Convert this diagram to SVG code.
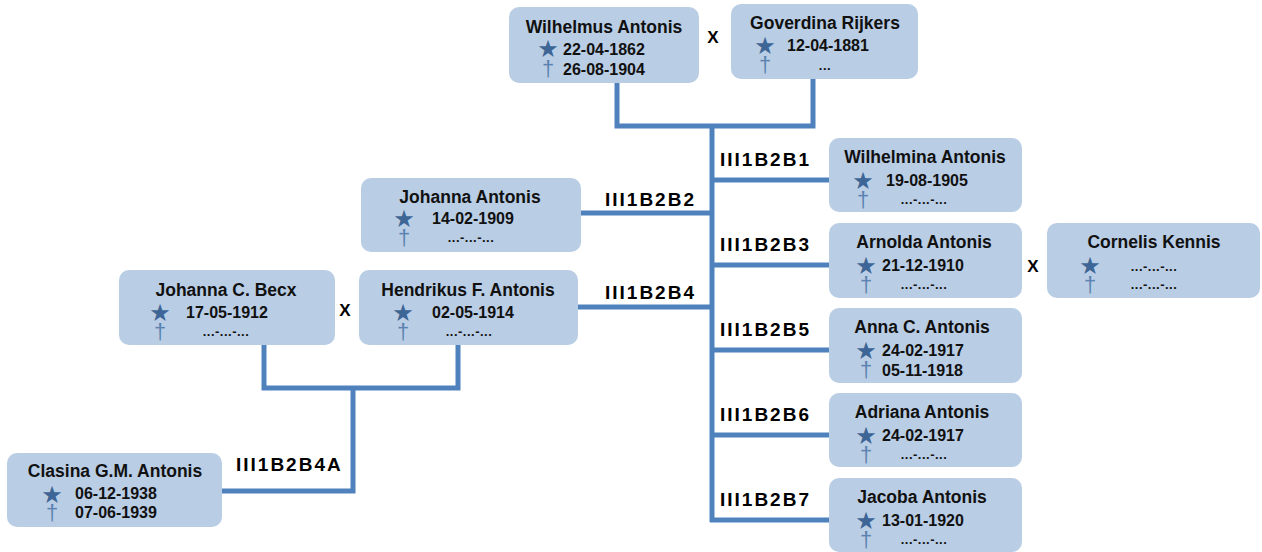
<svg xmlns="http://www.w3.org/2000/svg" width="1262" height="552" viewBox="0 0 1262 552">
<style>
.box{fill:#b9cde5}
.name{font-family:"Liberation Sans",Arial,sans-serif;font-weight:bold;font-size:17.5px;fill:#111;text-anchor:middle}
.date{font-family:"Liberation Sans",Arial,sans-serif;font-weight:bold;font-size:16px;fill:#111}
.dots{font-family:"Liberation Sans",Arial,sans-serif;font-weight:bold;font-size:13px;letter-spacing:0.5px;fill:#111;text-anchor:middle}
.star{font-family:"DejaVu Sans",sans-serif;font-size:24px;fill:#3d6595;text-anchor:middle}
.dag{font-family:"Liberation Sans",Arial,sans-serif;font-size:22px;fill:#5b82b0;text-anchor:middle}
.lbl{font-family:"Liberation Sans",Arial,sans-serif;font-weight:bold;font-size:19px;letter-spacing:2px;fill:#000}
.x{font-family:"Liberation Sans",Arial,sans-serif;font-weight:bold;font-size:17px;fill:#000;text-anchor:middle}
.conn{stroke:#4f81bd;stroke-width:5;fill:none}
</style>
<g id="connectors">
<path class="conn" d="M617,83 V126 H813 V79"/>
<path class="conn" d="M712,126 V522"/>
<path class="conn" d="M712,180 H829 M712,265 H829 M712,350 H829 M712,435 H829 M710,520 H829"/>
<path class="conn" d="M712,213 H581 M712,307 H578"/>
<path class="conn" d="M264,345 V388 H458 V345"/>
<path class="conn" d="M353,388 V491 H222"/>
</g>
<g id="labels">
<text class="lbl" x="720" y="166">III1B2B1</text>
<text class="lbl" x="720" y="251">III1B2B3</text>
<text class="lbl" x="720" y="336">III1B2B5</text>
<text class="lbl" x="720" y="421">III1B2B6</text>
<text class="lbl" x="720" y="506">III1B2B7</text>
<text class="lbl" x="605" y="206">III1B2B2</text>
<text class="lbl" x="605" y="299">III1B2B4</text>
<text class="lbl" x="236" y="471">III1B2B4A</text>
<text class="x" x="713" y="43">X</text>
<text class="x" x="1033" y="272">X</text>
<text class="x" x="345" y="316">X</text>
</g>
<g id="wilhelmus">
<rect class="box" x="509" y="7" width="190" height="76" rx="10"/>
<text class="name" x="604" y="33">Wilhelmus Antonis</text>
<text class="star" x="548" y="57">★</text>
<text class="date" x="563" y="55">22-04-1862</text>
<text class="dag" x="548" y="76">†</text>
<text class="date" x="563" y="75">26-08-1904</text>
</g>
<g id="goverdina">
<rect class="box" x="731" y="4" width="187" height="75" rx="10"/>
<text class="name" x="825" y="29">Goverdina Rijkers</text>
<text class="star" x="765" y="54">★</text>
<text class="date" x="787" y="51">12-04-1881</text>
<text class="dag" x="765" y="72">†</text>
<text class="dots" x="825" y="70">...</text>
</g>
<g id="wilhelmina">
<rect class="box" x="829" y="138" width="193" height="74" rx="10"/>
<text class="name" x="925" y="163">Wilhelmina Antonis</text>
<text class="star" x="863" y="189">★</text>
<text class="date" x="886" y="186">19-08-1905</text>
<text class="dag" x="863" y="207">†</text>
<text class="dots" x="924" y="204">...-...-...</text>
</g>
<g id="johanna">
<rect class="box" x="361" y="178" width="220" height="74" rx="10"/>
<text class="name" x="470" y="203">Johanna Antonis</text>
<text class="star" x="404" y="227">★</text>
<text class="date" x="432" y="224">14-02-1909</text>
<text class="dag" x="404" y="245">†</text>
<text class="dots" x="471" y="242">...-...-...</text>
</g>
<g id="arnolda">
<rect class="box" x="829" y="223" width="193" height="75" rx="10"/>
<text class="name" x="924" y="248">Arnolda Antonis</text>
<text class="star" x="866" y="274">★</text>
<text class="date" x="882" y="271">21-12-1910</text>
<text class="dag" x="866" y="292">†</text>
<text class="dots" x="924" y="289">...-...-...</text>
</g>
<g id="cornelis">
<rect class="box" x="1047" y="223" width="213" height="75" rx="10"/>
<text class="name" x="1154" y="248">Cornelis Kennis</text>
<text class="star" x="1090" y="274">★</text>
<text class="dots" x="1154" y="271">...-...-...</text>
<text class="dag" x="1090" y="292">†</text>
<text class="dots" x="1154" y="289">...-...-...</text>
</g>
<g id="becx">
<rect class="box" x="119" y="270" width="216" height="75" rx="10"/>
<text class="name" x="226" y="296">Johanna C. Becx</text>
<text class="star" x="160" y="321">★</text>
<text class="date" x="186" y="318">17-05-1912</text>
<text class="dag" x="160" y="339">†</text>
<text class="dots" x="226" y="336">...-...-...</text>
</g>
<g id="hendrikus">
<rect class="box" x="359" y="270" width="219" height="75" rx="10"/>
<text class="name" x="468" y="296">Hendrikus F. Antonis</text>
<text class="star" x="403" y="321">★</text>
<text class="date" x="432" y="318">02-05-1914</text>
<text class="dag" x="403" y="339">†</text>
<text class="dots" x="469" y="336">...-...-...</text>
</g>
<g id="anna">
<rect class="box" x="829" y="308" width="193" height="75" rx="10"/>
<text class="name" x="922" y="333">Anna C. Antonis</text>
<text class="star" x="866" y="359">★</text>
<text class="date" x="882" y="356">24-02-1917</text>
<text class="dag" x="866" y="377">†</text>
<text class="date" x="882" y="376">05-11-1918</text>
</g>
<g id="adriana">
<rect class="box" x="829" y="393" width="193" height="74" rx="10"/>
<text class="name" x="922" y="418">Adriana Antonis</text>
<text class="star" x="866" y="444">★</text>
<text class="date" x="882" y="441">24-02-1917</text>
<text class="dag" x="866" y="462">†</text>
<text class="dots" x="924" y="459">...-...-...</text>
</g>
<g id="jacoba">
<rect class="box" x="829" y="478" width="193" height="74" rx="10"/>
<text class="name" x="922" y="503">Jacoba Antonis</text>
<text class="star" x="866" y="529">★</text>
<text class="date" x="882" y="526">13-01-1920</text>
<text class="dag" x="866" y="547">†</text>
<text class="dots" x="924" y="544">...-...-...</text>
</g>
<g id="clasina">
<rect class="box" x="7" y="453" width="215" height="74" rx="10"/>
<text class="name" x="115" y="477">Clasina G.M. Antonis</text>
<text class="star" x="52" y="503">★</text>
<text class="date" x="75" y="499">06-12-1938</text>
<text class="dag" x="52" y="520">†</text>
<text class="date" x="75" y="518">07-06-1939</text>
</g>
</svg>
